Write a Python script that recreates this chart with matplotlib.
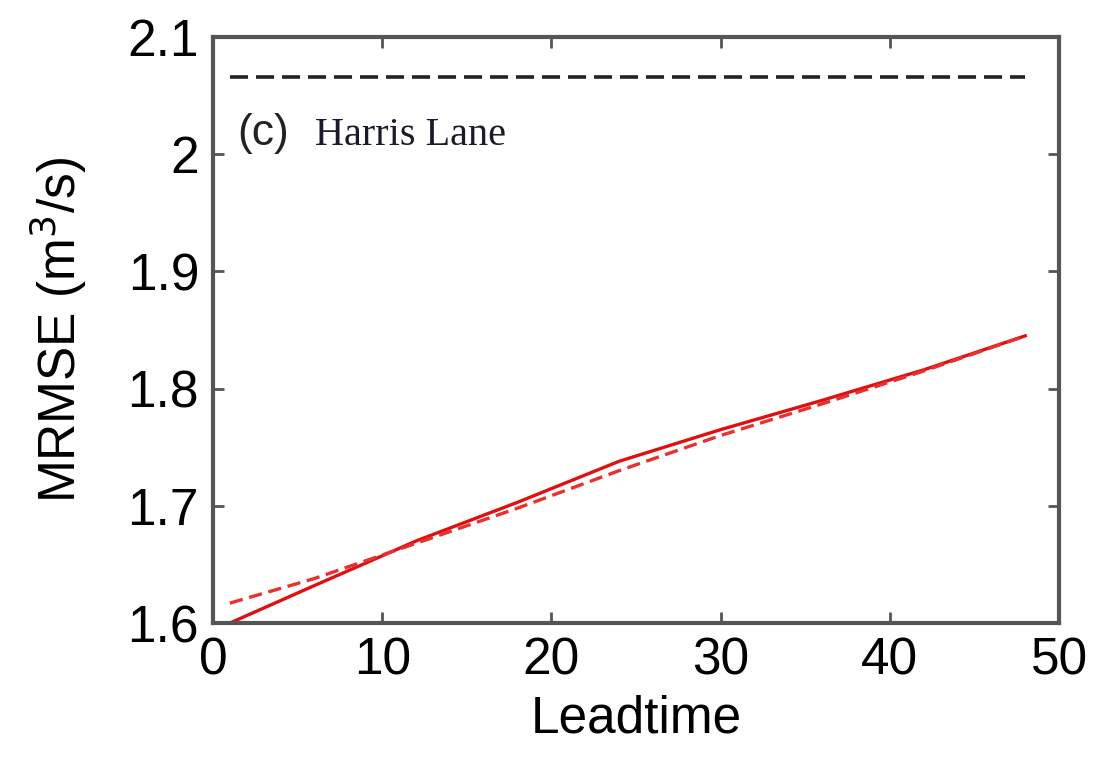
import matplotlib
matplotlib.use('Agg')
import matplotlib.pyplot as plt
import numpy as np

# lead times (hours) and MRMSE values
lead = [1, 6, 12, 18, 24, 30, 36, 42, 48]
mrmse_solid = [1.600, 1.632, 1.670, 1.703, 1.738, 1.765, 1.790, 1.816, 1.845]
mrmse_dashed = [1.617, 1.638, 1.668, 1.698, 1.730, 1.760, 1.787, 1.815, 1.845]
lead_ref = [1, 48]
mrmse_ref = [2.066, 2.066]

xticks = [0, 10, 20, 30, 40, 50]
yticks = [1.6, 1.7, 1.8, 1.9, 2.0, 2.1]
ytick_labels = ['1.6', '1.7', '1.8', '1.9', '2', '2.1']

plt.rcParams['font.family'] = ['Liberation Sans', 'DejaVu Sans']

fig = plt.figure(figsize=(11.07, 7.67), dpi=100)
ax = fig.add_axes([0.1924, 0.1877, 0.7643, 0.7641])

ax.plot(lead_ref, mrmse_ref, color='#222222', lw=2.6, ls=(0, (5, 2.2)))
ax.plot(lead, mrmse_solid, color='#e01010', lw=2.4)
ax.plot(lead, mrmse_dashed, color='#e83030', lw=2.4, ls=(0, (4, 2)))

ax.set_xlim(0, 50)
ax.set_ylim(1.6, 2.1)
ax.set_xticks(xticks)
ax.set_yticks(yticks)
ax.set_yticklabels(ytick_labels)
ax.tick_params(direction='in', length=8, width=2, top=True, right=True,
               labelsize=37, color='#555555', pad=10)
for s in ax.spines.values():
    s.set_linewidth(3)
    s.set_color('#555555')

ax.set_xlabel('Leadtime', fontsize=37, labelpad=6)
ax.set_ylabel('MRMSE (m$^3$/s)', fontsize=37, labelpad=28)

ax.text(1.45, 2.008, '(c)', fontsize=32, color='#222222', va='baseline')
ax.text(6.0, 2.008, 'Harris Lane', fontsize=29, color='#1a1a2a',
        family='Liberation Serif', va='baseline')

fig.savefig('out.png', dpi=100)
